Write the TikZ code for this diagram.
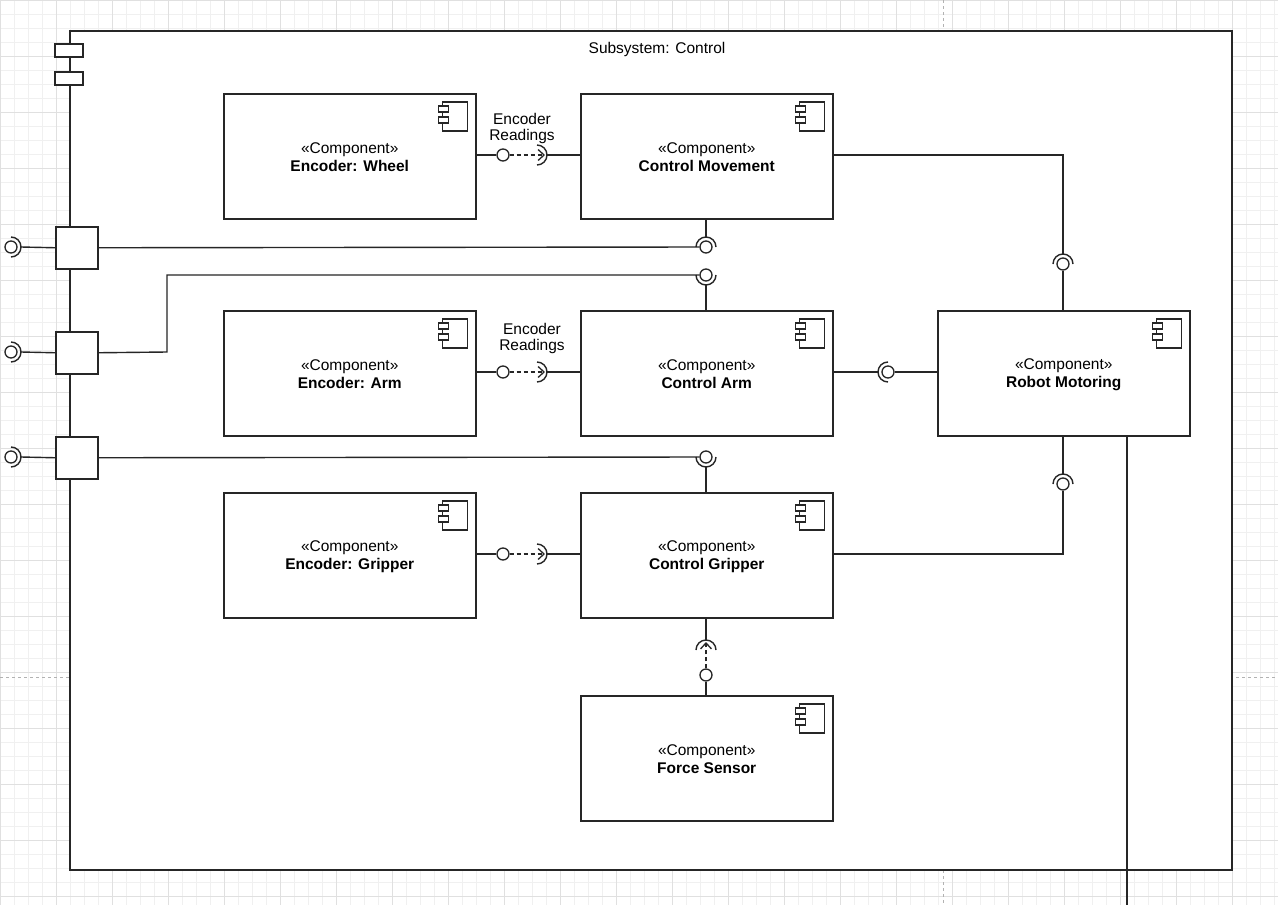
\documentclass[tikz,border=0pt]{standalone}
\usepackage{fontspec}
\setmainfont{Liberation Sans}
\usetikzlibrary{arrows.meta,calc}
\begin{document}
\begin{tikzpicture}[x=1pt,y=-1pt,line width=1.4pt,
  comp/.style={draw=black!85,line width=1.5pt,fill=white,minimum width=252,minimum height=125,anchor=north west,inner sep=0},
  port/.style={draw=black!85,line width=1.5pt,fill=white,minimum width=42,minimum height=42,anchor=north west,inner sep=0},
  ball/.style={circle,draw=black!85,line width=1.3pt,fill=white,minimum size=12,inner sep=0},
  ln/.style={draw=black!85},
  dep/.style={draw=black!85,dash pattern=on 4pt off 3pt,-{Straight Barb[length=6pt,width=11pt,line width=1.3pt]}},
  txt/.style={font=\fontsize{15.5}{18}\selectfont,align=center}]
\useasboundingbox (0,0) rectangle (1278,905);
\fill[white] (0,0) rectangle (1278,905);
\foreach \i in {0,14,...,1278} \draw[black!6,line width=0.8pt] (\i,0)--(\i,905);
\foreach \i in {0,14,...,905} \draw[black!6,line width=0.8pt] (0,\i)--(1278,\i);
\foreach \i in {0,56,...,1278} \draw[black!12,line width=0.8pt] (\i,0)--(\i,905);
\foreach \i in {0,56,...,905} \draw[black!12,line width=0.8pt] (0,\i)--(1278,\i);
\draw[black!30,dashed,line width=0.8pt] (943,0)--(943,905) (0,677)--(1278,677);
% frame
\node[draw=black!85,line width=1.5pt,fill=white,minimum width=1162,minimum height=839,anchor=north west,inner sep=0] (frame) at (69,30) {};
\node[txt,anchor=north] (title) at (657,38) {Subsystem: Control};
\node[draw=black!85,line width=1.2pt,fill=white,minimum width=28,minimum height=13,inner sep=0] (t1) at (69,50.5) {};
\node[draw=black!85,line width=1.2pt,fill=white,minimum width=28,minimum height=13,inner sep=0] (t2) at (69,78.5) {};
% components
\newcommand\mycomp[4]{%
  \node[comp] (#1) at (#2,#3) {};
  \node[txt] at ($(#1.center)+(0,1)$) {«Component»\\[0pt]\textbf{#4}};
  \draw[black!85,line width=1.1pt,fill=white] ($(#1.north east)+(-34,9)$) rectangle ($(#1.north east)+(-9,38)$);
  \draw[black!85,line width=1.1pt,fill=white] ($(#1.north east)+(-38,13)$) rectangle ($(#1.north east)+(-28,19)$);
  \draw[black!85,line width=1.1pt,fill=white] ($(#1.north east)+(-38,24)$) rectangle ($(#1.north east)+(-28,30)$);
}
\mycomp{ew}{223}{93}{Encoder: Wheel}
\mycomp{cm}{580}{93}{Control Movement}
\mycomp{ea}{223}{310}{Encoder: Arm}
\mycomp{ca}{580}{310}{Control Arm}
\mycomp{rm}{937}{310}{Robot Motoring}
\mycomp{eg}{223}{492}{Encoder: Gripper}
\mycomp{cg}{580}{492}{Control Gripper}
\mycomp{fs}{580}{695}{Force Sensor}
% ports
\node[port] (p1) at (55,226) {};
\node[port] (p2) at (55,331) {};
\node[port] (p3) at (55,436) {};
% socket arc: center x,y, start angle
\newcommand\sock[3]{\draw[black!85] ($(#1,#2)+(#3:10)$) arc[start angle=#3,delta angle=180,radius=10];}
% external ports
\foreach \p/\y in {p1/247,p2/352,p3/457}{
  \node[ball] (x\p) at (11,\y) {};
  \draw[ln] (\p.west) -- (21,\y);
  \sock{11}{\y}{-90}
}
% encoder readings
\foreach \e/\c/\y in {ew/cm/155,ea/ca/372,eg/cg/554}{
  \node[ball] (b\e) at (503,\y) {};
  \draw[ln] (\e.east|-b\e) -- (b\e);
  \draw[dep] (b\e) -- (545,\y);
  \sock{537}{\y}{-90}
  \draw[ln] (547,\y) -- (\c.west|-b\e);
}
\node[txt,align=center] (lab1) at (522,128) {Encoder\\[-2pt]Readings};
\node[txt,align=center] (lab2) at (532,338) {Encoder\\[-2pt]Readings};
% port 1 -> control movement
\node[ball] (b1) at (706,247) {};
\draw[ln] (p1.east) -- (b1);
\draw[ln] (cm.south-|b1) -- (706,237);
\sock{706}{247}{180}
% port 2 -> control arm
\node[ball] (b2) at (706,275) {};
\draw[ln] (p2.east) -- (167,352) -- (167,275) -- (b2);
\draw[ln] (ca.north-|b2) -- (706,285);
\sock{706}{275}{0}
% port 3 -> control gripper
\node[ball] (b3) at (706,457) {};
\draw[ln] (p3.east) -- (b3);
\draw[ln] (cg.north-|b3) -- (706,467);
\sock{706}{457}{0}
% control movement -> robot motoring
\node[ball] (b4) at (1063,264) {};
\draw[ln] (cm.east|-0,155) -- (1063,155) -- (1063,254);
\sock{1063}{264}{180}
\draw[ln] (b4) -- (rm.north-|b4);
% control arm -> robot motoring
\node[ball] (b5) at (888,372) {};
\draw[ln] (ca.east|-b5) -- (878,372);
\sock{888}{372}{90}
\draw[ln] (b5) -- (rm.west|-b5);
% control gripper -> robot motoring
\node[ball] (b6) at (1063,484) {};
\draw[ln] (cg.east|-0,554) -- (1063,554) -- (b6);
\sock{1063}{484}{180}
\draw[ln] (rm.south-|b6) -- (1063,474);
% force sensor -> control gripper
\node[ball] (b7) at (706,675) {};
\draw[ln] (fs.north-|b7) -- (b7);
\draw[dep] (b7) -- (706,642);
\sock{706}{650}{180}
\draw[ln] (706,640) -- (cg.south-|b7);
% line down from robot motoring
\coordinate (down) at (1127,905);
\draw[ln] (rm.south-|down) -- (down);
\end{tikzpicture}
\end{document}
